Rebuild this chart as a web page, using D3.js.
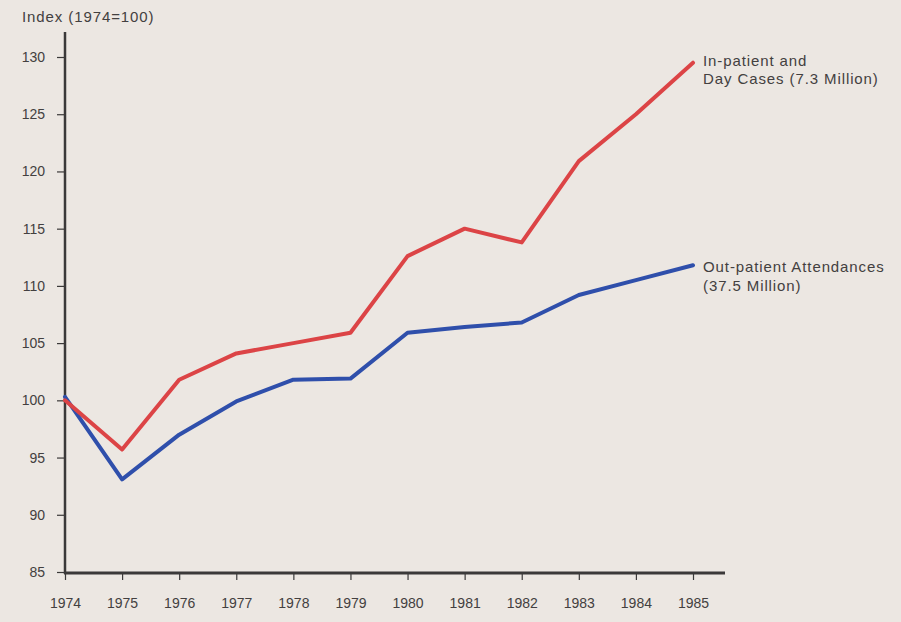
<!DOCTYPE html>
<html>
<head>
<meta charset="utf-8">
<script src="https://cdn.jsdelivr.net/npm/d3@7"></script>
<style>
  html, body { margin: 0; padding: 0; background: #ece7e2; }
  svg { display: block; }
  text { font-family: "Liberation Sans", Arial, sans-serif; fill: #434040; }
</style>
</head>
<body>
<svg id="chart"></svg>
<script>
// data
var years = [1974, 1975, 1976, 1977, 1978, 1979, 1980, 1981, 1982, 1983, 1984, 1985];
var inpatient = [100, 95.7, 101.8, 104.1, 105.0, 105.9, 112.6, 115.0, 113.8, 120.9, 125.0, 129.5];
var outpatient = [100.3, 93.1, 97.0, 99.9, 101.8, 101.9, 105.9, 106.4, 106.8, 109.2, 110.5, 111.8];
var yTicks = [85, 90, 95, 100, 105, 110, 115, 120, 125, 130];

var width = 901, height = 622;
var svg = d3.select('#chart').attr('width', width).attr('height', height);

svg.append('rect')
    .attr('width', width)
    .attr('height', height)
    .style('fill', '#ece7e2');

var x = d3.scaleLinear().domain([1974, 1985]).range([65, 693]);
var y = d3.scaleLinear().domain([85, 130]).range([572, 57]);

// y axis
var yAxis = svg.append('g')
    .attr('transform', 'translate(65,0)')
    .call(d3.axisLeft(y).tickValues(yTicks).tickSize(8).tickPadding(12));
yAxis.select('.domain').remove();
yAxis.selectAll('line').attr('stroke', '#3b3939').attr('stroke-width', 1.2);
yAxis.selectAll('text').attr('font-size', 14).attr('font-family', null).style('fill', '#434040');

svg.append('line')
    .attr('x1', 65).attr('x2', 65)
    .attr('y1', 32).attr('y2', 574)
    .attr('stroke', '#3b3939')
    .attr('stroke-width', 2.5);

// x axis
var xAxis = svg.append('g')
    .attr('transform', 'translate(0,573)')
    .call(d3.axisBottom(x).tickValues(years).tickFormat(d3.format('d')).tickSize(7).tickPadding(18));
xAxis.select('.domain').remove();
xAxis.selectAll('line').attr('stroke', '#3b3939').attr('stroke-width', 1.2);
xAxis.selectAll('text').attr('font-size', 14).attr('font-family', null).style('fill', '#434040');

svg.append('line')
    .attr('x1', 64).attr('x2', 725)
    .attr('y1', 573).attr('y2', 573)
    .attr('stroke', '#3b3939')
    .attr('stroke-width', 3);

svg.append('text')
    .attr('x', 22)
    .attr('y', 22)
    .attr('font-size', 15)
    .attr('letter-spacing', 0.9)
    .text('Index (1974=100)');

var line = d3.line()
    .x(function(d, i) { return x(years[i]); })
    .y(function(d) { return y(d); });

svg.append('path')
    .datum(outpatient)
    .attr('d', line)
    .attr('fill', 'none')
    .attr('stroke', '#2f4fab')
    .attr('stroke-width', 4)
    .attr('stroke-linejoin', 'round')
    .attr('stroke-linecap', 'round');

svg.append('path')
    .datum(inpatient)
    .attr('d', line)
    .attr('fill', 'none')
    .attr('stroke', '#dc4446')
    .attr('stroke-width', 4)
    .attr('stroke-linejoin', 'round')
    .attr('stroke-linecap', 'round');

// series labels
var labels = [
    { lines: ['In-patient and', 'Day Cases (7.3 Million)'], v: inpatient[11], dy: 3 },
    { lines: ['Out-patient Attendances', '(37.5 Million)'], v: outpatient[11], dy: 7 }
];
labels.forEach(function(l) {
    var t = svg.append('text')
        .attr('x', 703)
        .attr('y', y(l.v) + l.dy)
        .attr('font-size', 15)
        .attr('letter-spacing', 0.9);
    l.lines.forEach(function(s, i) {
        t.append('tspan')
            .attr('x', 703)
            .attr('dy', i === 0 ? 0 : 18.5)
            .text(s);
    });
});
</script>
</body>
</html>
